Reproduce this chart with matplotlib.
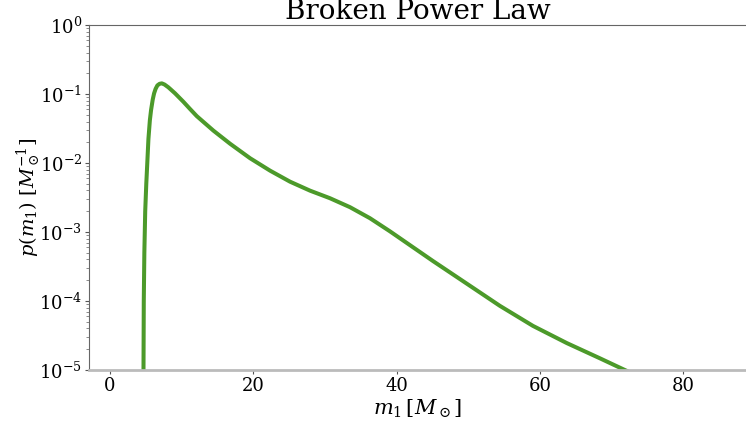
import numpy as np
import matplotlib
matplotlib.use("Agg")
import matplotlib.pyplot as plt

plt.rcParams['font.family'] = 'serif'
plt.rcParams['font.serif'] = ['DejaVu Serif']
plt.rcParams['mathtext.fontset'] = 'dejavuserif'

# Primary mass grid [M_sun] and log10 of the density p(m1)
m1 = [4.62, 4.64, 4.66, 4.70, 4.78, 4.90, 5.05, 5.12, 5.35, 5.55, 5.72,
      5.95, 6.14, 6.35, 6.60, 6.90, 7.22, 7.60, 8.14, 9.07, 10.23, 11.10,
      12.10, 14.42, 16.75, 19.54, 22.33, 25.12, 27.91, 30.70, 33.50,
      36.29, 39.08, 41.59, 45.08, 49.83, 54.43, 59.04, 63.78, 68.39,
      71.88, 75.0]
log_p = [-7.0, -6.0, -5.0, -4.0, -3.3, -2.7, -2.3, -2.15, -1.65, -1.38,
         -1.23, -1.08, -0.99, -0.925, -0.875, -0.852, -0.845, -0.862,
         -0.903, -0.99, -1.112, -1.21, -1.32, -1.53, -1.72, -1.93, -2.11,
         -2.27, -2.40, -2.51, -2.64, -2.80, -2.99, -3.17, -3.42, -3.75,
         -4.07, -4.36, -4.61, -4.83, -5.0, -5.15]

p = 10.0 ** np.array(log_p)

fig = plt.figure(figsize=(7.46, 4.32), dpi=100)
ax = fig.add_axes([0.1193, 0.1435, 0.8807, 0.7985])

ax.plot(m1, p, color='#4c9a2a', lw=2.9, solid_joinstyle='round')

ax.set_yscale('log')
ax.set_ylim(1e-5, 1e0)
ax.set_xlim(-2.95, 88.8)
ax.set_xticks([0, 20, 40, 60, 80])

ax.set_title('Broken Power Law', fontsize=20, pad=3)
ax.set_xlabel(r'$m_1\,[M_\odot]$', fontsize=15, labelpad=2)
ax.set_ylabel(r'$p(m_1)\ [M_\odot^{-1}]$', fontsize=14, labelpad=-3)

ax.spines['right'].set_visible(False)
ax.spines['top'].set_color('#666666')
ax.spines['left'].set_color('#666666')
ax.spines['left'].set_linewidth(0.8)
ax.spines['bottom'].set_color('#bbbbbb')
ax.spines['bottom'].set_linewidth(2.0)

ax.tick_params(axis='both', which='major', labelsize=13, length=3,
               width=0.8, color='#555555', pad=2)
ax.tick_params(axis='y', which='minor', length=2, width=0.6, color='#777777')

fig.savefig('out.png', dpi=100)
